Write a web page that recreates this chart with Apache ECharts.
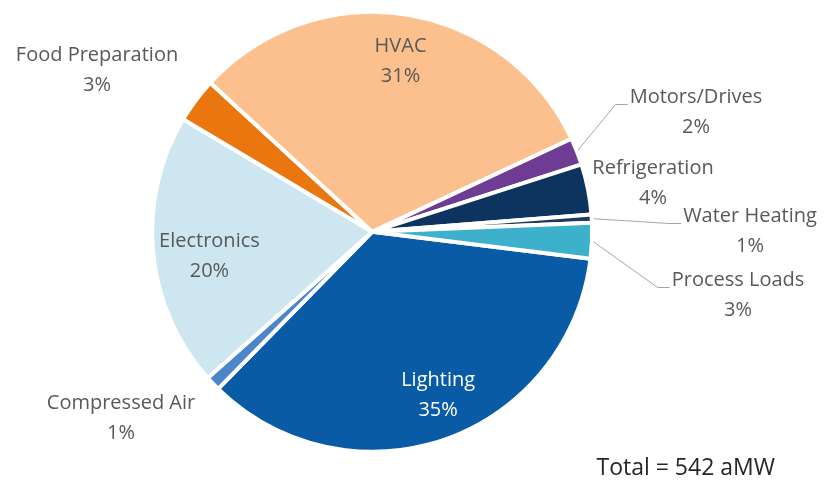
<!DOCTYPE html>
<html><head><meta charset="utf-8">
<script src="https://cdn.jsdelivr.net/npm/echarts@6/dist/echarts.min.js"></script>
<style>html,body{margin:0;padding:0;background:#fff}#c{width:827px;height:483px}</style>
</head><body><div id="c"></div>
<script>
const categories = ['Lighting','Compressed Air','Electronics','Food Preparation','HVAC','Motors/Drives','Refrigeration','Water Heating','Process Loads'];
const shares = [35.4, 1.1, 20.1, 3.3, 31.2, 2.0, 3.7, 0.6, 2.6];
const colors = ['#0A5BA6','#4A86C8','#CDE6F0','#E9760F','#FBC08E','#6E3C92','#0D345E','#1F3B5C','#3DB0CC'];
const insideNames = ['Lighting','Electronics','HVAC'];
const lineNames = ['Motors/Drives','Water Heating','Process Loads'];
const totalText = 'Total = 542 aMW';

// placement of the outside text blocks (centre of the two-line label)
const labelCenters = {
  'Food Preparation':[97,70], 'Motors/Drives':[696,112], 'Refrigeration':[653,183],
  'Water Heating':[750,231], 'Process Loads':[738,295], 'Compressed Air':[121,418]
};
const insideShift = {'Electronics':[9,8], 'Lighting':[9,1], 'HVAC':[2,0]};

const font = '"Open Sans", sans-serif';
const chart = echarts.init(document.getElementById('c'), null, {renderer:'canvas'});
const pct = p => Math.round(p.percent) + '%';

const outerData = categories.map((n,i)=>({
  name:n, value:shares[i],
  itemStyle:{color:colors[i]},
  label:{show: insideNames.indexOf(n) < 0},
  labelLine:{show: lineNames.indexOf(n) >= 0}
}));
const innerData = categories.map((n,i)=>({
  name:n, value:shares[i],
  label:{show: insideNames.indexOf(n) >= 0, color: n==='Lighting' ? '#FFFFFF' : '#595959'}
}));

chart.setOption({
  animation:false,
  title:{text: totalText, right:52, top:453, padding:0,
    textStyle:{fontFamily:font, fontSize:23, fontWeight:'normal', color:'#262626', lineHeight:30}},
  series:[
    {type:'pie', center:['45%','48%'], radius:[0,220], startAngle:-7, clockwise:true,
     avoidLabelOverlap:false,
     itemStyle:{borderColor:'#fff', borderWidth:4},
     label:{position:'outside', formatter: p => '{a|'+p.name+'}\n{a|'+pct(p)+'}',
       rich:{a:{align:'center', fontFamily:font, fontSize:20, color:'#595959', lineHeight:30}}},
     labelLine:{length:20, length2:30, lineStyle:{color:'#A6A6A6', width:1}},
     labelLayout: function(params){
       const n = categories[params.dataIndex];
       const pos = labelCenters[n];
       if (!pos) return {};
       const w = params.labelRect.width, h = params.labelRect.height;
       const res = {x:pos[0], y:pos[1], align:'center', verticalAlign:'middle', hideOverlap:false, moveOverlap:null};
       if (params.labelLinePoints && lineNames.indexOf(n) >= 0) {
         const p0 = params.labelLinePoints[0];
         const lx = pos[0] - w/2 - 2;
         const ly = pos[1] - h/4 + 5;
         res.labelLinePoints = [p0, [lx-12, ly], [lx, ly]];
       }
       return res;
     },
     data: outerData},
    {type:'pie', center:['45%','48%'], radius:[119,220], startAngle:-7, clockwise:true,
     silent:true, avoidLabelOverlap:false,
     itemStyle:{color:'rgba(0,0,0,0)'},
     label:{position:'inside', formatter: p => p.name+'\n'+pct(p),
       fontFamily:font, fontSize:20, lineHeight:30, align:'center'},
     labelLine:{show:false},
     labelLayout: function(params){
       const s = insideShift[categories[params.dataIndex]];
       return s ? {dx:s[0], dy:s[1]} : {};
     },
     data: innerData}
  ]
});
</script></body></html>
